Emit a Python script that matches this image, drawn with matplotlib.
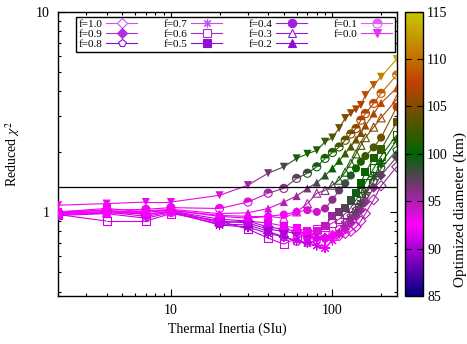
import numpy as np
import matplotlib
matplotlib.use('Agg')
import matplotlib.pyplot as plt
from matplotlib.colors import LinearSegmentedColormap, Normalize
from matplotlib.collections import LineCollection
from matplotlib.lines import Line2D
from matplotlib.markers import MarkerStyle
from matplotlib.ticker import FuncFormatter, NullFormatter
from matplotlib.cm import ScalarMappable

plt.rcParams['font.family'] = ['Liberation Serif', 'DejaVu Serif']
plt.rcParams['mathtext.fontset'] = 'stix'

# thermal inertia grid (SI units)
inertia = [2, 4, 7, 10, 20, 30, 40, 50, 60, 70, 80, 90, 100, 110, 120, 130, 140, 150, 160, 180, 200, 250]

# reduced chi^2 for each roughness fraction f
chi2_f10 = [0.99, 1.02, 0.97, 1.01, 0.92, 0.90, 0.84, 0.82, 0.80, 0.78, 0.76, 0.74, 0.74, 0.76, 0.78, 0.80, 0.84, 0.90, 0.98, 1.15, 1.35, 1.68]
chi2_f09 = [0.98, 1.00, 0.95, 1.00, 0.90, 0.88, 0.82, 0.80, 0.78, 0.75, 0.74, 0.74, 0.76, 0.78, 0.82, 0.88, 0.95, 1.02, 1.12, 1.32, 1.52, 1.88]
chi2_f08 = [0.96, 0.98, 0.93, 0.99, 0.87, 0.86, 0.80, 0.75, 0.71, 0.70, 0.72, 0.74, 0.77, 0.82, 0.88, 0.95, 1.02, 1.10, 1.22, 1.42, 1.65, 2.03]
chi2_f07 = [0.97, 0.99, 0.98, 1.00, 0.86, 0.84, 0.78, 0.75, 0.72, 0.70, 0.68, 0.66, 0.72, 0.78, 0.85, 0.92, 1.00, 1.10, 1.25, 1.50, 1.75, 2.28]
chi2_f06 = [0.97, 0.90, 0.90, 0.98, 0.90, 0.82, 0.74, 0.69, 0.74, 0.78, 0.82, 0.84, 0.88, 0.92, 0.98, 1.05, 1.15, 1.25, 1.40, 1.65, 1.90, 2.42]
chi2_f05 = [1.00, 1.04, 1.00, 1.02, 0.88, 0.90, 0.88, 0.85, 0.83, 0.80, 0.80, 0.85, 0.95, 1.00, 1.05, 1.15, 1.24, 1.39, 1.58, 1.85, 2.05, 2.80]
chi2_f04 = [0.99, 1.00, 1.00, 1.02, 0.95, 0.93, 0.95, 0.97, 1.00, 1.02, 1.00, 1.04, 1.15, 1.28, 1.39, 1.52, 1.65, 1.78, 1.90, 2.10, 2.35, 3.34]
chi2_f03 = [0.97, 0.99, 1.00, 1.02, 0.96, 0.95, 0.95, 0.93, 1.00, 1.10, 1.24, 1.28, 1.36, 1.44, 1.58, 1.75, 1.95, 2.15, 2.35, 2.65, 2.95, 3.65]
chi2_f02 = [0.98, 1.00, 1.01, 1.03, 0.98, 0.99, 1.04, 1.12, 1.20, 1.31, 1.40, 1.52, 1.65, 1.80, 1.96, 2.12, 2.30, 2.48, 2.70, 3.10, 3.50, 4.15]
chi2_f01 = [1.00, 1.02, 1.03, 1.05, 1.04, 1.12, 1.24, 1.31, 1.47, 1.56, 1.68, 1.85, 1.98, 2.11, 2.28, 2.45, 2.61, 2.87, 3.10, 3.48, 3.91, 4.83]
chi2_f00 = [1.08, 1.10, 1.12, 1.12, 1.21, 1.36, 1.56, 1.68, 1.85, 1.95, 2.03, 2.24, 2.35, 2.62, 2.94, 3.11, 3.25, 3.42, 3.83, 4.30, 4.73, 5.80]

# optimized diameter (km) at each point
diam_f10 = [91, 91, 91, 91.5, 90, 90, 90, 90.5, 91, 91.5, 92, 92.5, 93, 93, 93.5, 93.5, 94, 94.5, 95, 95, 95.5, 96]
diam_f09 = [91, 91, 91, 91.5, 90, 90, 90, 90, 90.5, 91, 91.5, 92, 92.5, 93, 93.5, 94, 94.5, 95, 95.5, 96, 97, 97.5]
diam_f08 = [91, 91, 91, 91.5, 90, 90, 90, 90, 90.5, 91, 91.5, 92, 92.5, 93.5, 94.5, 95.5, 96, 96.5, 97, 97.5, 98.5, 99.5]
diam_f07 = [91, 91.5, 91.5, 92, 90, 90, 90, 90.5, 91, 91, 91.5, 92, 93, 94, 95, 96, 97, 97.5, 98, 99, 99.5, 100.5]
diam_f06 = [91.5, 91, 91, 92, 90.5, 90.5, 91, 91.5, 92, 92.5, 93, 93.5, 94.5, 95.5, 96.5, 97.5, 98.5, 99, 99.5, 100, 100.5, 101.5]
diam_f05 = [91.5, 92, 92, 92.5, 91, 91, 91.5, 92, 92.5, 93, 93.5, 94.5, 95.5, 96.5, 97.5, 98.5, 99.5, 100, 100.5, 101, 102, 104]
diam_f04 = [92, 92, 92.5, 92.5, 91.5, 91.5, 92, 92.5, 93, 93.5, 94, 95, 96, 97, 98, 99, 100, 101, 102, 103, 104.5, 106.5]
diam_f03 = [92, 92.5, 92.5, 92.5, 92, 92, 92.5, 93, 93.5, 94.5, 95.5, 96.5, 97.5, 99, 100, 101, 102, 103, 104, 105, 106, 107.5]
diam_f02 = [92.5, 92.5, 92.5, 93, 92.5, 93, 93.5, 94.5, 95.5, 96.5, 97.5, 99, 100, 101, 102, 103, 104, 105, 106, 107, 107.5, 108.5]
diam_f01 = [92.5, 92.5, 93, 93, 93, 93.5, 95, 96, 97.5, 98.5, 99.5, 100.5, 101.5, 102.5, 103.5, 104.5, 105.5, 106.5, 107, 108, 109, 110.5]
diam_f00 = [93, 93, 93, 93, 93.5, 95, 96.5, 98, 99.5, 100.5, 101, 102, 103, 104, 105, 106, 106.5, 107, 108, 109, 111, 113]

labels = ['f=1.0', 'f=0.9', 'f=0.8', 'f=0.7', 'f=0.6', 'f=0.5',
          'f=0.4', 'f=0.3', 'f=0.2', 'f=0.1', 'f=0.0']
chi2_all = [chi2_f10, chi2_f09, chi2_f08, chi2_f07, chi2_f06, chi2_f05,
            chi2_f04, chi2_f03, chi2_f02, chi2_f01, chi2_f00]
diam_all = [diam_f10, diam_f09, diam_f08, diam_f07, diam_f06, diam_f05,
            diam_f04, diam_f03, diam_f02, diam_f01, diam_f00]
chi2_limit = 1.33

# marker, filled?, size
styles = [('D', False, 26), ('D', True, 26), ('p', False, 34), ((8, 2, 0), True, 44),
          ('s', False, 34), ('s', True, 34), ('o', True, 34), ('^', False, 34),
          ('^', True, 34), ('half', False, 34), ('v', True, 34)]
key_colors = ['#c858f0', '#b030e0', '#8c10d8', '#c050f0', '#a828e0', '#9010d0',
              '#a020e0', '#9418d8', '#8c10d0', '#e060f4', '#e038f0']

cmap = LinearSegmentedColormap.from_list(
    'diam', [(0.0, '#000080'), (0.25, '#ff00ff'), (0.5, '#006400'),
             (0.75, '#c04000'), (1.0, '#c8c800')])
norm = Normalize(85, 115)

fig = plt.figure(figsize=(4.67, 3.44), dpi=100)
ax = fig.add_axes([0.1242, 0.1395, 0.7253, 0.8265])
cax = fig.add_axes([0.867, 0.1395, 0.0385, 0.8265])

for chi2, diam, (mk, filled, size) in zip(chi2_all, diam_all, styles):
    x = np.array(inertia, float)
    y = np.array(chi2, float)
    d = np.array(diam, float)
    pts = np.column_stack([x, y])
    segs = np.stack([pts[:-1], pts[1:]], axis=1)
    lc = LineCollection(segs, colors=cmap(norm(0.5 * (d[:-1] + d[1:]))),
                        linewidths=0.8, zorder=2)
    ax.add_collection(lc)
    cols = cmap(norm(d))
    if mk == 'half':
        ax.scatter(x, y, s=size, marker=MarkerStyle('o', fillstyle='top'),
                   c=cols, linewidths=0, zorder=3)
        ax.scatter(x, y, s=size, marker='o', facecolors='none',
                   edgecolors=cols, linewidths=0.8, zorder=3)
    elif filled and isinstance(mk, tuple):
        ax.scatter(x, y, s=size, marker=mk, c=cols, linewidths=0.8, zorder=3)
    elif filled:
        ax.scatter(x, y, s=size, marker=mk, c=cols, linewidths=0, zorder=3)
    else:
        ax.scatter(x, y, s=size, marker=mk, facecolors='none',
                   edgecolors=cols, linewidths=0.8, zorder=3)

ax.axhline(chi2_limit, color='black', lw=0.9, zorder=4)

ax.set_xscale('log')
ax.set_yscale('log')
ax.set_xlim(2, 250)
ax.set_ylim(0.38, 10)
plain = FuncFormatter(lambda v, p: '%g' % v)
ax.xaxis.set_major_formatter(plain)
ax.yaxis.set_major_formatter(plain)
ax.xaxis.set_minor_formatter(NullFormatter())
ax.yaxis.set_minor_formatter(NullFormatter())
ax.tick_params(which='both', direction='in', top=True, right=True, labelsize=10, width=0.8)
ax.tick_params(which='major', length=5, pad=6)
ax.tick_params(which='minor', length=2.5)
for sp in ax.spines.values():
    sp.set_linewidth(1.0)
ax.set_xlabel('Thermal Inertia (SIu)', fontsize=10, labelpad=4)
ax.set_ylabel(r'Reduced $\chi^2$', fontsize=10, labelpad=10)

handles = []
for (mk, filled, size), kc in zip(styles, key_colors):
    if mk == 'half':
        h = Line2D([], [], color=kc, lw=0.8, marker='o', ms=6.5, fillstyle='top',
                   mfc=kc, mfcalt='white', mec=kc, mew=0.8)
    elif filled:
        h = Line2D([], [], color=kc, lw=0.8, marker=mk, ms=6 if mk != 'D' else 5,
                   mfc=kc, mec=kc, mew=0.8)
    else:
        h = Line2D([], [], color=kc, lw=0.8, marker=mk, ms=6 if mk != 'D' else 5,
                   mfc='white', mec=kc, mew=0.8)
    handles.append(h)
leg = ax.legend(handles, labels, ncol=4, loc='upper left',
                bbox_to_anchor=(0.052, 0.982), fontsize=8, markerfirst=False,
                frameon=True, fancybox=False, edgecolor='black', framealpha=1,
                labelspacing=0.0, handlelength=2.8, handletextpad=0.35,
                columnspacing=2.35, borderpad=0.25, borderaxespad=0)
leg.get_frame().set_linewidth(1.0)
leg.set_zorder(5)

sm = ScalarMappable(norm=norm, cmap=cmap)
cb = fig.colorbar(sm, cax=cax, ticks=[85, 90, 95, 100, 105, 110, 115])
cb.outline.set_linewidth(1.0)
cax.tick_params(direction='in', left=True, right=True, length=4, width=0.8,
                labelsize=10, pad=3, color='black')
fig.text(0.999, 0.39, 'Optimized diameter (km)', rotation=90, fontsize=11,
         ha='right', va='center')

fig.savefig('out.png', dpi=100)
